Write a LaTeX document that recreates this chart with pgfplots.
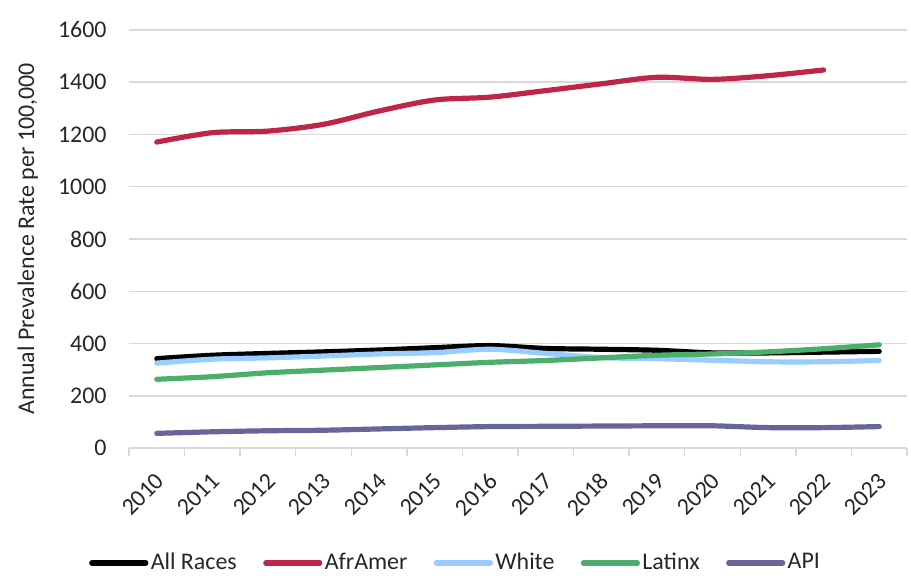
\documentclass[border=0pt]{standalone}
\usepackage{pgfplots}
\pgfplotsset{compat=1.18}
\usepackage{fontspec}
\setmainfont{Carlito}
\definecolor{gridgray}{HTML}{D9D9D9}
\definecolor{afr}{HTML}{BE2548}
\definecolor{whiteblue}{HTML}{99CCFF}
\definecolor{lat}{HTML}{4CAE6B}
\definecolor{api}{HTML}{66669A}
\definecolor{txt}{HTML}{262626}
\begin{document}
\fontsize{12}{14}\selectfont
\begin{tikzpicture}
\begin{axis}[
  at={(0,0)}, anchor=south west,
  scale only axis, width=389bp, height=209bp,
  xmin=-0.5, xmax=13.5, ymin=0, ymax=1600,
  ytick={0,200,...,1600},
  xtick={0,...,13},
  xticklabels={2010,2011,2012,2013,2014,2015,2016,2017,2018,2019,2020,2021,2022,2023},
  minor xtick={-0.5,0.5,...,13.5},
  axis x line*=bottom, axis y line*=left,
  x axis line style={gridgray, line width=0.75bp, -},
  y axis line style={draw=none},
  ymajorgrids, grid style={gridgray, line width=0.75bp},
  major x tick style={draw=none}, ytick style={draw=none},
  minor x tick style={gridgray, line width=0.75bp},
  minor tick length=3.8bp, xtick align=outside,
  /pgf/number format/assume math mode=true,
  /pgf/number format/1000 sep={},
  tick label style={text=txt, font=\fontsize{12}{14}\selectfont},
  yticklabel style={inner sep=0pt, xshift=-11bp},
  xticklabel style={rotate=45, anchor=east, inner sep=0pt, xshift=1.5bp, yshift=-1bp},
  xticklabel shift=10.5bp,
  ylabel={Annual Prevalence Rate per 100,000},
  ylabel style={at={(axis description cs:-0.13,0.5)}, anchor=center, text=txt, font=\fontsize{12}{14}\selectfont},
  legend style={at={(axis description cs:0.42,-0.275)}, anchor=center, draw=none, fill=none,
    legend columns=-1, text=txt, font=\fontsize{12}{14}\selectfont,
    /tikz/every even column/.append style={column sep=12bp},
    nodes={inner sep=1.2bp}},
  legend image code/.code={\draw[#1, line cap=round] (0bp,0bp) -- (27bp,0bp);},
  every axis plot/.append style={line width=2.6bp, line cap=round, smooth, tension=0.5, no markers},
]
\addplot[black] coordinates {(0,342) (1,355) (2,362) (3,368) (4,375) (5,384) (6,392) (7,381) (8,378) (9,374) (10,364) (11,364) (12,367) (13,370)};
\addlegendentry{All Races}
\addplot[afr] coordinates {(0,1171) (1,1207) (2,1213) (3,1239) (4,1290) (5,1332) (6,1343) (7,1368) (8,1394) (9,1419) (10,1411) (11,1425) (12,1447)};
\addlegendentry{AfrAmer}
\addplot[whiteblue] coordinates {(0,325) (1,340) (2,345) (3,352) (4,360) (5,365) (6,378) (7,362) (8,346) (9,342) (10,336) (11,330) (12,330) (13,335)};
\addlegendentry{White}
\addplot[lat] coordinates {(0,263) (1,273) (2,288) (3,298) (4,308) (5,318) (6,328) (7,335) (8,345) (9,355) (10,360) (11,368) (12,380) (13,395)};
\addlegendentry{Latinx}
\addplot[api] coordinates {(0,56) (1,62) (2,66) (3,68) (4,73) (5,78) (6,82) (7,83) (8,84) (9,85) (10,85) (11,78) (12,78) (13,82)};
\addlegendentry{API}
\end{axis}
\pgfresetboundingbox
\useasboundingbox (-64.5bp,-69bp) rectangle (391bp,224bp);
\end{tikzpicture}
\end{document}
